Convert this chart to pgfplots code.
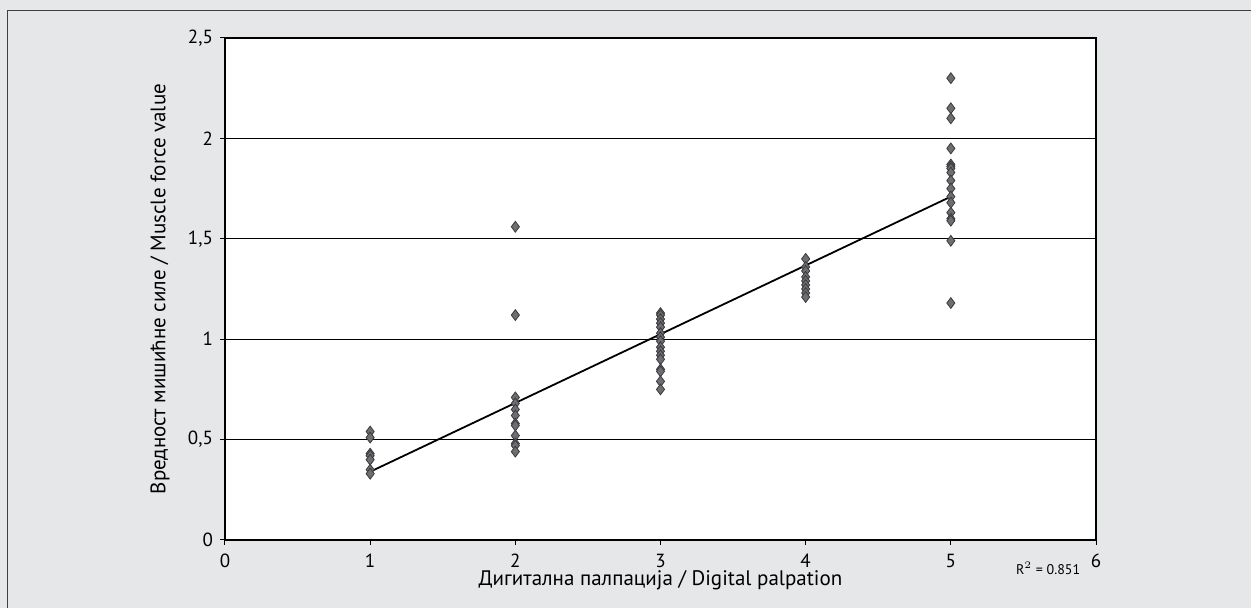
\documentclass[border=0pt]{standalone}
\usepackage{pgfplots}
\pgfplotsset{compat=1.18}
\usepackage{fontspec}
\setmainfont{PT Sans}
\definecolor{bggray}{HTML}{E6E7E8}
\definecolor{mkfill}{HTML}{6D6E71}
\definecolor{mkdraw}{HTML}{3A3A3C}
\begin{document}
\begin{tikzpicture}[x=1pt,y=1pt]
\path[use as bounding box] (-112.5,-34) rectangle (513,270);
\fill[bggray] (-112.5,-34) rectangle (513,270);
\draw[line width=0.6pt,black!75] (-108.7,-34) -- (-108.7,264.7) -- (513,264.7);
\begin{axis}[
  at={(0,0)}, anchor=origin,
  scale only axis, width=435.5pt, height=251pt,
  xmin=0, xmax=6, ymin=0, ymax=2.5,
  xtick={0,1,2,3,4,5,6}, ytick={0,0.5,1,1.5,2,2.5},
  ymajorgrids, grid style={black, line width=0.5pt},
  axis line style={black, line width=0.8pt},
  axis background/.style={fill=white},
  tick style={black, line width=0.5pt},
  tick align=outside, major tick length=2.5pt,
  xtick pos=bottom, ytick pos=left,
  /pgf/number format/use comma,
  /pgf/number format/assume math mode=true,
  tick label style={font=\fontsize{9.5}{11}\selectfont},
  xticklabel style={yshift=-1pt},
  xlabel={Дигитална палпација / Digital palpation},
  label style={font=\fontsize{10.5}{12}\selectfont},
  xlabel style={at={(axis description cs:0.5,0)}, anchor=center, yshift=-20pt},
  clip=false,
]
\addplot[only marks, mark=diamond*, mark size=2.7pt, mark options={fill=mkfill, draw=mkdraw, line width=0.4pt}] coordinates {
(1,0.54) (1,0.51) (1,0.43) (1,0.42) (1,0.40) (1,0.35) (1,0.33)
(2,1.56) (2,1.12) (2,0.71) (2,0.68) (2,0.65) (2,0.62) (2,0.58) (2,0.57) (2,0.52) (2,0.48) (2,0.47) (2,0.44)
(3,1.13) (3,1.12) (3,1.10) (3,1.08) (3,1.06) (3,1.03) (3,1.01) (3,0.99) (3,0.96) (3,0.94) (3,0.92) (3,0.90) (3,0.85) (3,0.84) (3,0.79) (3,0.75)
(4,1.40) (4,1.36) (4,1.34) (4,1.31) (4,1.29) (4,1.27) (4,1.25) (4,1.23) (4,1.21)
(5,2.30) (5,2.15) (5,2.10) (5,1.95) (5,1.87) (5,1.86) (5,1.85) (5,1.83) (5,1.79) (5,1.75) (5,1.71) (5,1.68) (5,1.63) (5,1.60) (5,1.59) (5,1.49) (5,1.18)
};
\addplot[black, line width=0.9pt] coordinates {(1,0.34) (5,1.71)};
\node[font=\fontsize{7}{8}\selectfont, anchor=center] at (axis cs:5.67,-0.14) {R$^{2}$ = 0.851};
\node[font=\fontsize{10.5}{12}\selectfont, rotate=90, anchor=center, xshift=0pt] at ([xshift=-32.5pt]rel axis cs:0,0.5) {Вредност мишићне силе / Muscle force value};
\end{axis}
\end{tikzpicture}
\end{document}
